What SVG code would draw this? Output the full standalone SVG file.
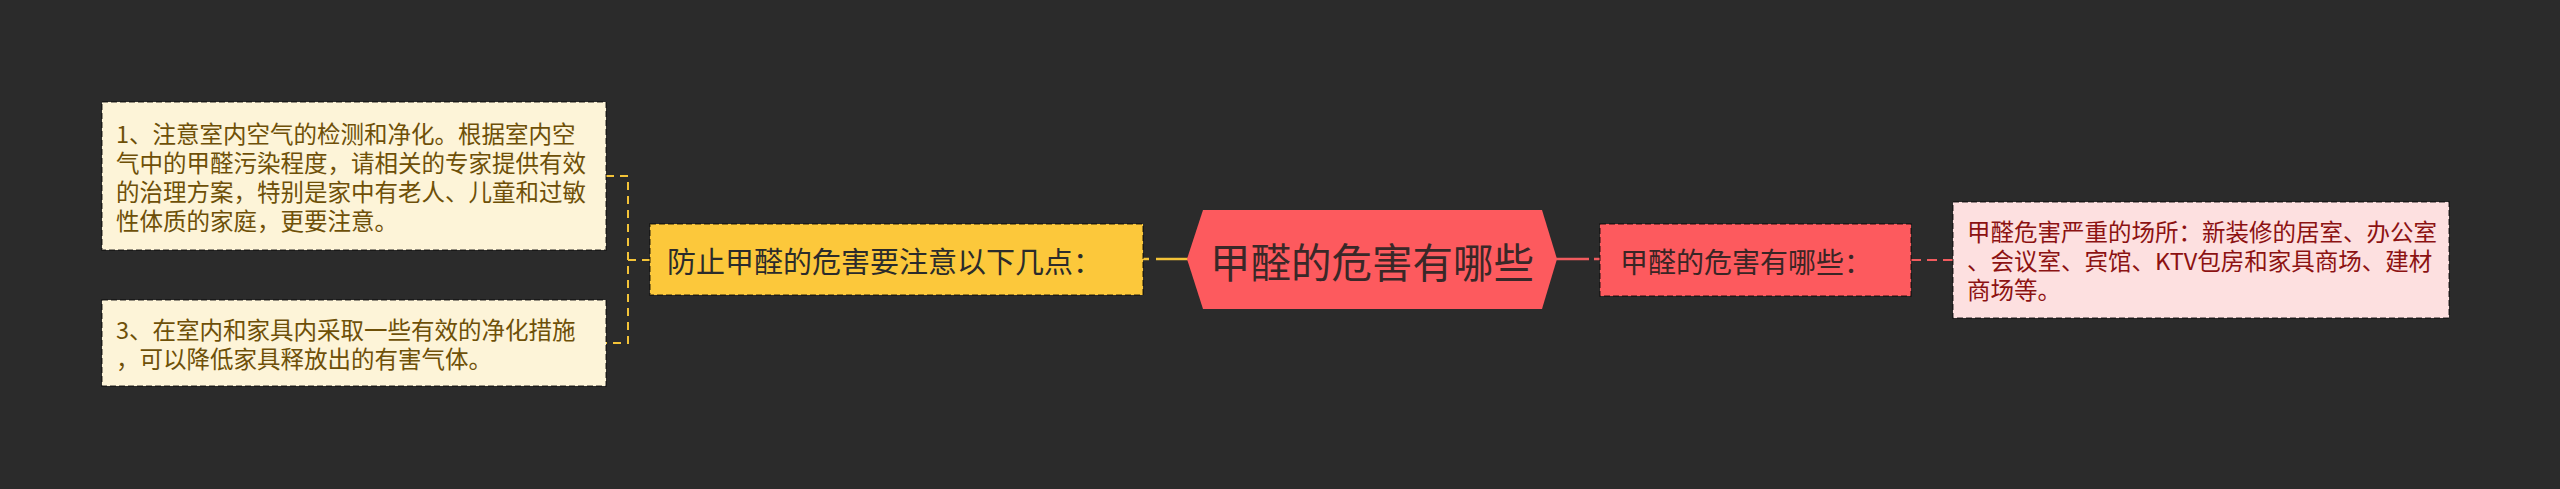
<svg xmlns="http://www.w3.org/2000/svg" width="2560" height="489" viewBox="0 0 2560 489">
<style>
text{font-family:"Noto Sans CJK SC","Microsoft YaHei",sans-serif;}
.box{stroke:rgba(0,0,0,0.55);stroke-width:1.5;stroke-dasharray:6 3;}
.t1{font-size:23.5px;fill:#6e5008;}
.ty{font-size:29px;fill:#2b2b2b;}
.tr{font-size:28px;fill:#3a2525;}
.tp{font-size:23.5px;fill:#8c1212;}
.yl{stroke:#f3c338;stroke-width:2.5;fill:none;}
.yd{stroke:#f3c338;stroke-width:2;fill:none;stroke-dasharray:8 6;}
.rl{stroke:#f15b5e;stroke-width:2.5;fill:none;}
.rd{stroke:#f15b5e;stroke-width:2;fill:none;stroke-dasharray:10 6;}
</style>
<rect width="2560" height="489" fill="#2b2b2b"/>
<g id="connectors">
  <path class="yd" d="M606 176 H628 V343 H606"/>
  <path class="yd" d="M628 260 H650"/>
  <path class="yl" d="M1143 259 H1149"/>
  <path class="yl" d="M1156 259 H1188"/>
  <path class="rl" d="M1556 259 H1589"/>
  <path class="rl" d="M1594 259 H1600"/>
  <path class="rd" d="M1911 260 H1953"/>
</g>
<g id="node-tip1">
  <rect class="box" x="102" y="102" width="504" height="148" fill="#fdf4d8"/>
  <text class="t1" x="116" y="132.5" dominant-baseline="central">1、注意室内空气的检测和净化。根据室内空</text>
  <text class="t1" x="116" y="161.5" dominant-baseline="central">气中的甲醛污染程度，请相关的专家提供有效</text>
  <text class="t1" x="116" y="190.5" dominant-baseline="central">的治理方案，特别是家中有老人、儿童和过敏</text>
  <text class="t1" x="116" y="219.5" dominant-baseline="central">性体质的家庭，更要注意。</text>
</g>
<g id="node-tip3">
  <rect class="box" x="102" y="300" width="504" height="86" fill="#fdf4d8"/>
  <text class="t1" x="116" y="328.5" dominant-baseline="central">3、在室内和家具内采取一些有效的净化措施</text>
  <text class="t1" x="116" y="357.5" dominant-baseline="central">，可以降低家具释放出的有害气体。</text>
</g>
<g id="node-prevent">
  <rect class="box" x="650" y="224" width="493" height="71" fill="#fcc83b"/>
  <text class="ty" x="667" y="260" dominant-baseline="central">防止甲醛的危害要注意以下几点：</text>
</g>
<g id="node-center">
  <polygon points="1187,259 1203,210 1542,210 1557,259 1542,309 1203,309" fill="#fd5a5e"/>
  <text x="1372" y="260" font-size="40.5" fill="#3a2828" text-anchor="middle" dominant-baseline="central">甲醛的危害有哪些</text>
</g>
<g id="node-harm">
  <rect class="box" x="1600" y="224" width="311" height="72" fill="#fd5a5e"/>
  <text class="tr" x="1620" y="261" dominant-baseline="central">甲醛的危害有哪些：</text>
</g>
<g id="node-places">
  <rect class="box" x="1953" y="202" width="496" height="116" fill="#fde0e0"/>
  <text class="tp" x="1967" y="231" dominant-baseline="central">甲醛危害严重的场所：新装修的居室、办公室</text>
  <text class="tp" x="1967" y="260" dominant-baseline="central">、会议室、宾馆、KTV包房和家具商场、建材</text>
  <text class="tp" x="1967" y="289" dominant-baseline="central">商场等。</text>
</g>
</svg>
